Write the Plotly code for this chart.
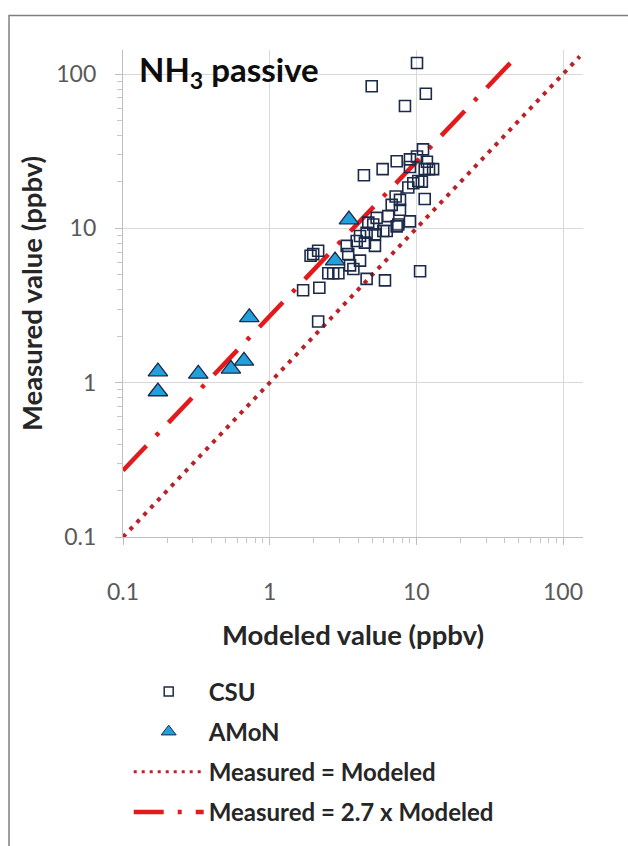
import plotly.graph_objects as go

# ---- data ----
csu_x = [10.1, 4.96, 11.6, 8.36, 11.1, 9.04, 7.34, 10.1, 5.89, 4.39,
         11.4, 12.2, 13.0, 11.8, 9.04, 10.3, 9.53, 10.9, 8.81, 11.4,
         7.73, 7.22, 6.79, 7.73, 5.36, 7.53, 9.04, 7.34, 6.28, 5.22,
         4.13, 4.70, 6.43, 4.58, 5.95, 3.92, 4.46, 5.22, 3.35, 3.43,
         4.13, 3.72, 4.58, 6.11, 1.98, 2.14, 1.90, 2.51, 2.71, 2.94,
         1.69, 2.18, 2.14, 10.6, 5.08, 3.53]
csu_y = [118, 83.4, 74.6, 62.1, 32.5, 28.0, 27.2, 29.2, 24.2, 22.1,
         24.2, 24.2, 24.2, 27.0, 25.0, 20.3, 19.6, 20.1, 18.4, 15.5,
         15.3, 16.1, 14.2, 13.2, 11.7, 10.6, 11.1, 10.3, 9.61, 9.14,
         8.93, 10.9, 12.0, 9.37, 9.61, 8.29, 8.09, 7.70, 7.70, 6.81,
         6.18, 5.46, 4.71, 4.60, 6.81, 7.16, 6.65, 5.12, 5.12, 5.12,
         3.97, 4.12, 2.49, 5.27, 10.6, 5.76]

amon_x = [0.173, 0.173, 0.326, 0.544, 0.668, 0.726, 2.79, 3.47]
amon_y = [1.18, 0.877, 1.14, 1.23, 1.385, 2.65, 6.18, 11.4]

one_x = [0.1, 130]
one_y = [0.1, 130]
fit_x = [0.1, 50]
fit_y = [0.27, 135]

tick_vals = [0.1, 1, 10, 100]
tick_text = ["0.1", "1", "10", "100"]

names = ["CSU", "AMoN", "Measured = Modeled", "Measured = 2.7 x Modeled"]

FONT = "Lato"
NAVY = "#1c2a4a"
DOT_RED = "#b8232a"
DASH_RED = "#e3191c"
TRI_BLUE = "#22a0dc"

sq_marker = dict(symbol="square-open", size=11, color=NAVY, line=dict(width=1.6, color=NAVY))
tri_marker = dict(symbol="triangle-up", size=17, color=TRI_BLUE, line=dict(width=1.3, color=NAVY))
one_line = dict(color=DOT_RED, width=4, dash="4px,6px")
fit_line = dict(color=DASH_RED, width=4.5, dash="34px,14px,4px,14px")

fig = go.Figure()

# data traces
fig.add_trace(go.Scatter(x=one_x, y=one_y, mode="lines", name=names[2],
                         showlegend=False, line=one_line))
fig.add_trace(go.Scatter(x=fit_x, y=fit_y, mode="lines", name=names[3],
                         showlegend=False, line=fit_line))
fig.add_trace(go.Scatter(x=csu_x, y=csu_y, mode="markers", name=names[0],
                         showlegend=False, marker=sq_marker))
fig.add_trace(go.Scatter(x=amon_x, y=amon_y, mode="markers", name=names[1],
                         showlegend=False, marker=tri_marker))

# legend entries (smaller symbols, as in the reference legend)
fig.add_trace(go.Scatter(x=[None], y=[None], mode="markers", name=names[0], legendgroup="a",
                         marker=dict(symbol="square-open", size=9, color=NAVY, line=dict(width=1.5, color=NAVY))))
fig.add_trace(go.Scatter(x=[None], y=[None], mode="markers", name=names[1], legendgroup="b",
                         marker=dict(symbol="triangle-up", size=13, color=TRI_BLUE, line=dict(width=1, color=NAVY))))
fig.add_trace(go.Scatter(x=[None], y=[None], mode="lines", name=names[2], legendgroup="c",
                         line=dict(color=DOT_RED, width=3, dash="3px,5px")))
fig.add_trace(go.Scatter(x=[None], y=[None], mode="lines", name=names[3], legendgroup="d",
                         line=dict(color=DASH_RED, width=4.5, dash="30px,14px,4px,14px")))

axis_common = dict(
    type="log", tickvals=tick_vals, ticktext=tick_text,
    showgrid=True, gridcolor="#d9d9d9", gridwidth=1,
    showline=True, linecolor="#bfbfbf", linewidth=1.2,
    ticks="outside", ticklen=7, tickcolor="#bfbfbf",
    minor=dict(ticks="outside", ticklen=5, tickcolor="#c8c8c8", dtick="D1", showgrid=False),
    tickfont=dict(family=FONT, size=23, color="#595959"),
    zeroline=False, mirror=False,
)

fig.update_xaxes(
    **axis_common, range=[-1, 2.136], ticklabelstandoff=27,
    title=dict(text="<b>Modeled value (ppbv)</b>", font=dict(family=FONT, size=27.5, color="#262626"), standoff=22))
fig.update_yaxes(
    **axis_common, range=[-1, 2.156], ticklabelstandoff=14,
    title=dict(text="<b>Measured value (ppbv)</b>", font=dict(family=FONT, size=27.5, color="#262626"), standoff=5))

fig.add_annotation(
    text="<b>NH<sub>3</sub> passive</b>", xref="paper", yref="paper",
    x=0.03, y=0.955, xanchor="left", yanchor="middle", showarrow=False,
    font=dict(family=FONT, size=33, color="#0d0d0d"))

# outer chart frame (visible at left and top)
fig.add_shape(type="rect", xref="paper", yref="paper",
              x0=-0.2478, y0=-0.7, x1=1.2, y1=1.071,
              line=dict(color="#7f7f7f", width=1.5), layer="below")

fig.update_layout(
    width=628, height=846,
    margin=dict(l=123, r=45, t=50, b=303, pad=0),
    paper_bgcolor="white", plot_bgcolor="white",
    showlegend=True,
    legend=dict(
        x=0.0124, y=-0.2718, xanchor="left", yanchor="top",
        orientation="v", traceorder="grouped", tracegroupgap=6,
        itemwidth=70,
        font=dict(family=FONT, size=24, color="#262626", weight="bold"),
        bgcolor="rgba(0,0,0,0)"),
)

fig.write_html("out.html")
